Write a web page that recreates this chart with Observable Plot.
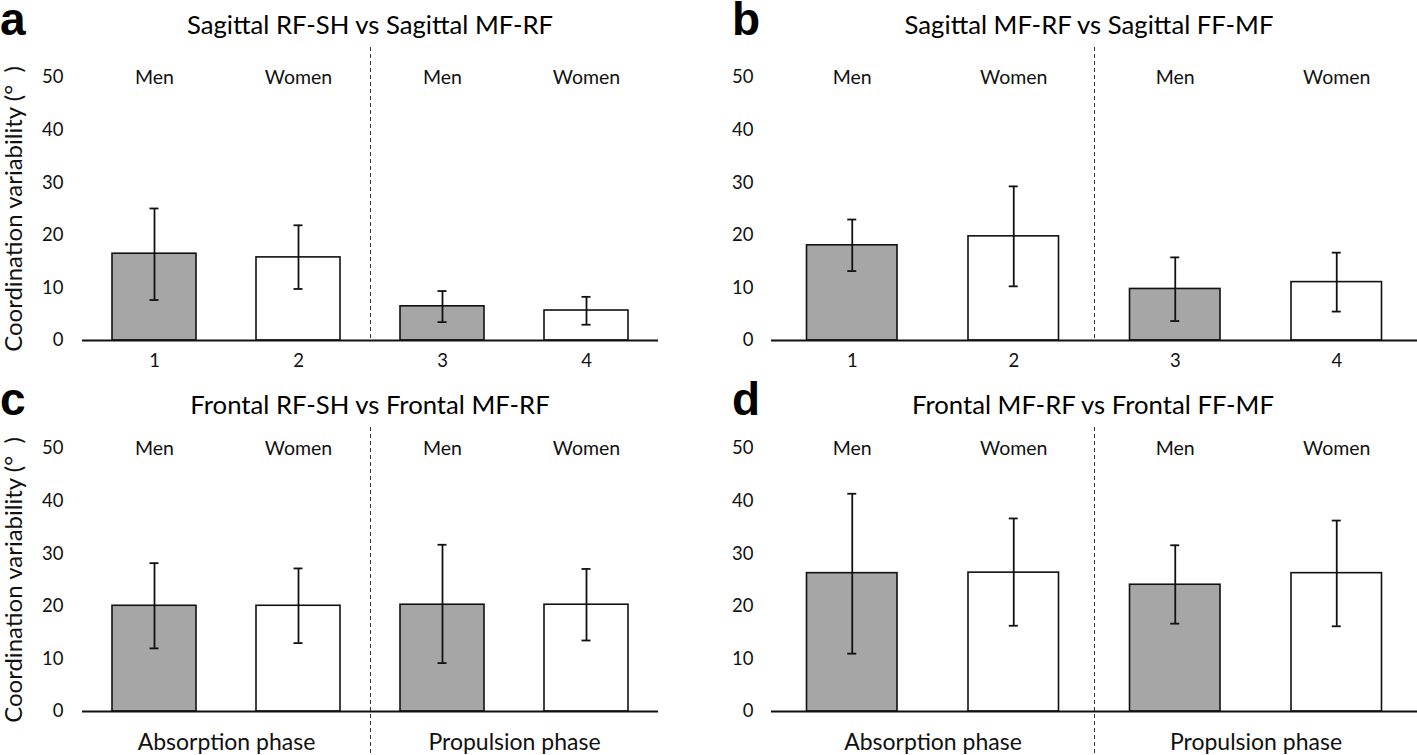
<!DOCTYPE html>
<html><head><meta charset="utf-8">
<script src="https://cdn.jsdelivr.net/npm/d3@7"></script>
<script src="https://cdn.jsdelivr.net/npm/@observablehq/plot@0.6"></script>
<style>
body{margin:0;background:#fff;}
#root{position:relative;width:1417px;height:755px;overflow:hidden;font-family:Lato,sans-serif;color:#000;}
.panel{position:absolute;}
.letter{position:absolute;font-family:"Liberation Sans",Arial,sans-serif;font-weight:bold;font-size:46px;line-height:0.8;}
.title{position:absolute;font-size:25.7px;line-height:1;white-space:nowrap;transform:translateX(-50%);}
</style></head><body><div id="root"></div>
<script>
// ---- data ----
const categories = ["Men", "Women", "Men", "Women"];
const barNumbers = ["1", "2", "3", "4"];
const phases = ["Absorption phase", "Propulsion phase"];
const yTicks = [0, 10, 20, 30, 40, 50];
const yLabel = "Coordination variability (°\u00a0\u00a0)";
const panelLetters = ["a", "b", "c", "d"];
const panelTitles = [
  "Sagittal RF-SH vs Sagittal MF-RF",
  "Sagittal MF-RF vs Sagittal FF-MF",
  "Frontal RF-SH vs Frontal MF-RF",
  "Frontal MF-RF vs Frontal FF-MF"
];
const aMean = [16.5, 15.8, 6.5, 5.7];
const aLow  = [7.7, 9.8, 3.5, 3.0];
const aHigh = [25.1, 21.9, 9.4, 8.3];
const bMean = [18.1, 19.8, 9.8, 11.1];
const bLow  = [13.2, 10.3, 3.7, 5.5];
const bHigh = [23.0, 29.3, 15.8, 16.7];
const cMean = [20.1, 20.1, 20.3, 20.3];
const cLow  = [12.0, 13.0, 9.2, 13.5];
const cHigh = [28.2, 27.2, 31.7, 27.1];
const dMean = [26.3, 26.4, 24.1, 26.3];
const dLow  = [11.0, 16.3, 16.7, 16.2];
const dHigh = [41.4, 36.7, 31.6, 36.3];

const seriesByPanel = [
  [aMean, aLow, aHigh], [bMean, bLow, bHigh],
  [cMean, cLow, cHigh], [dMean, dLow, dHigh]
];

// ---- layout ----
const layouts = [
  {left: 0,   top: 44,  width: 700, height: 334, mL: 82, mR: 42, mT: 3, mB: 38, y0: 296, y50: 33, pad: 19, inset: 30,   ylab: true,  bottom: "numbers"},
  {left: 700, top: 44,  width: 717, height: 334, mL: 71, mR: 0,  mT: 3, mB: 38, y0: 296, y50: 33, pad: 18, inset: 35.5, ylab: false, bottom: "numbers"},
  {left: 0,   top: 420, width: 700, height: 335, mL: 82, mR: 42, mT: 7, mB: 0,  y0: 291, y50: 28, pad: 19, inset: 30,   ylab: true,  bottom: "phases"},
  {left: 700, top: 420, width: 717, height: 335, mL: 71, mR: 0,  mT: 7, mB: 0,  y0: 291, y50: 28, pad: 18, inset: 35.5, ylab: false, bottom: "phases"}
];
const titleLayout = [
  {letterLeft: 0, letterTop: 1, titleX: 370, titleTop: 12},
  {letterLeft: 732, letterTop: 1, titleX: 1089, titleTop: 12},
  {letterLeft: 0, letterTop: 381, titleX: 370, titleTop: 392},
  {letterLeft: 732, letterTop: 381, titleX: 1093, titleTop: 392}
];

const ink = "#111";
const root = document.getElementById("root");
const perPhase = categories.length / phases.length;
const sepX = 1 + perPhase;

layouts.forEach((L, p) => {
  const [mean, low, high] = seriesByPanel[p];
  const rows = categories.map((sex, i) => ({
    idx: i + 1, sex, num: barNumbers[i], mean: mean[i], lo: low[i], hi: high[i]
  }));
  const phaseRows = phases.map((phase, k) => ({phase, center: 1 + k * perPhase + perPhase / 2}));
  const mid = d => d.idx + 0.5;

  const marks = [
    Plot.axisY({ticks: yTicks, tickSize: 0, tickPadding: L.pad, fontSize: 18.5, label: null, fill: ink, tickFormat: d => d}),
    Plot.ruleX([sepX], {stroke: "#333", strokeWidth: 1, strokeDasharray: "4,3"}),
    Plot.rect(rows, {x1: "idx", x2: d => d.idx + 1, y1: 0, y2: "mean", fill: "sex",
      insetLeft: L.inset, insetRight: L.inset, stroke: ink, strokeWidth: 1.6}),
    Plot.ruleY([0], {stroke: ink, strokeWidth: 1.8}),
    Plot.ruleX(rows, {x: mid, y1: "lo", y2: "hi", stroke: ink, strokeWidth: 1.8}),
    Plot.ruleY(rows, {x1: mid, x2: mid, y: "lo", insetLeft: -4.5, insetRight: -4.5, stroke: ink, strokeWidth: 1.8}),
    Plot.ruleY(rows, {x1: mid, x2: mid, y: "hi", insetLeft: -4.5, insetRight: -4.5, stroke: ink, strokeWidth: 1.8}),
    Plot.text(rows, {x: mid, y: 50, text: "sex", fontSize: 19.5, fill: ink})
  ];
  if (L.bottom === "numbers") {
    marks.push(Plot.text(rows, {x: mid, y: 0, dy: 21, text: "num", fontSize: 18.5, fill: ink}));
  } else {
    marks.push(Plot.text(phaseRows, {x: "center", y: 0, dy: 31, text: "phase", fontSize: 23, fill: ink}));
  }
  if (L.ylab) {
    marks.push(Plot.text([{label: yLabel, x: 1, y: 25}], {text: "label", x: "x", y: "y", dx: -(L.mL - 14),
      rotate: -90, fontSize: 24, fill: ink}));
  }

  const svg = Plot.plot({
    width: L.width, height: L.height,
    marginLeft: L.mL, marginRight: L.mR, marginTop: L.mT, marginBottom: L.mB,
    x: {domain: [1, categories.length + 1], axis: null},
    y: {domain: [0, 50], range: [L.y0, L.y50]},
    color: {domain: ["Men", "Women"], range: ["#a6a6a6", "#ffffff"]},
    style: {fontFamily: "Lato, sans-serif", background: "transparent", overflow: "visible", color: ink},
    marks
  });
  const wrap = document.createElement("div");
  wrap.className = "panel";
  wrap.style.left = L.left + "px";
  wrap.style.top = L.top + "px";
  wrap.appendChild(svg);
  root.appendChild(wrap);

  const T = titleLayout[p];
  const letter = document.createElement("div");
  letter.className = "letter";
  letter.textContent = panelLetters[p];
  letter.style.left = T.letterLeft + "px";
  letter.style.top = T.letterTop + "px";
  root.appendChild(letter);
  const title = document.createElement("div");
  title.className = "title";
  title.textContent = panelTitles[p];
  title.style.left = T.titleX + "px";
  title.style.top = T.titleTop + "px";
  root.appendChild(title);
});
</script>
</body></html>
